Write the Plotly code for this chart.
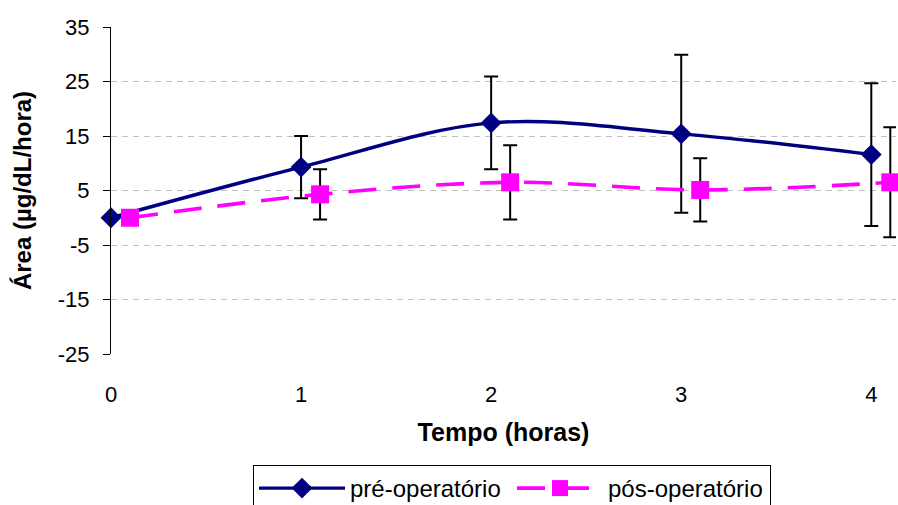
import plotly.graph_objects as go

# Time points (hours) and area values (mean ± error) for each group
tempo = [0, 1, 2, 3, 4]
pre_operatorio = [0.0, 9.3, 17.4, 15.4, 11.6]
pre_erro = [0.0, 5.7, 8.5, 14.5, 13.1]
pos_operatorio = [0.0, 4.3, 6.5, 5.1, 6.5]
pos_erro = [0.0, 4.6, 6.8, 5.8, 10.1]

tick_x = [0, 1, 2, 3, 4]
tick_y = [35, 25, 15, 5, -5, -15, -25]
tick_y_text = ["35", "25", "15", "5", "-5", "-15", "-25"]
y_range = [-25, 35]
x_range = [0, 4.13]

# the post-operative series is nudged right so the error bars do not overlap
offset = 0.1
tempo_pos = [t + offset for t in tempo]

FONT = "Arial, 'Liberation Sans', sans-serif"

fig = go.Figure()

fig.add_trace(go.Scatter(
    x=tempo, y=pre_operatorio, name="pré-operatório",
    mode="lines+markers",
    line=dict(color="#000080", width=3.4, shape="spline", smoothing=1),
    marker=dict(symbol="diamond", size=16, color="#000080"),
    error_y=dict(type="data", array=pre_erro, visible=True,
                 color="black", thickness=2, width=7),
    cliponaxis=False,
))

fig.add_trace(go.Scatter(
    x=tempo_pos, y=pos_operatorio, name="pós-operatório",
    mode="lines+markers",
    line=dict(color="#FF00FF", width=3.6, dash="28px,16px", shape="spline", smoothing=1),
    marker=dict(symbol="square", size=18, color="#FF00FF"),
    error_y=dict(type="data", array=pos_erro, visible=True,
                 color="black", thickness=2, width=7),
    cliponaxis=False,
))

fig.update_layout(
    width=898, height=505,
    margin=dict(l=111, r=2, t=27, b=151, autoexpand=False),
    paper_bgcolor="white", plot_bgcolor="white",
    font=dict(family=FONT, color="black"),
    xaxis=dict(
        range=x_range, tickvals=tick_x, ticktext=[str(v) for v in tick_x],
        showline=False, showgrid=False, zeroline=False, ticks="",
        ticklabelstandoff=25,
        tickfont=dict(size=22),
        title=dict(text="<b>Tempo (horas)</b>", font=dict(size=25), standoff=17),
    ),
    # axis line crossing the value axis at zero
    xaxis2=dict(
        overlaying="x", anchor="free", position=(0 - y_range[0]) / (y_range[1] - y_range[0]),
        range=x_range, tickvals=tick_x, showticklabels=False,
        showline=True, linecolor="black", linewidth=1,
        ticks="outside", ticklen=7, tickcolor="#808080", tickwidth=1,
        showgrid=False, zeroline=False,
    ),
    yaxis=dict(
        range=y_range, tickvals=tick_y, ticktext=tick_y_text,
        showline=True, linecolor="black", linewidth=1,
        ticks="outside", ticklen=7, tickcolor="black",
        showgrid=True, gridcolor="#c0c0c0", gridwidth=1, griddash="6px,5px",
        zeroline=False,
        tickfont=dict(size=22),
        ticklabelstandoff=9,
        title=dict(text="<b>Área (µg/dL/hora)</b>", font=dict(size=24), standoff=19),
    ),
    legend=dict(
        orientation="h", x=(253 - 111) / 785, xanchor="left",
        y=(354 - 465) / 327, yanchor="top",
        bordercolor="black", borderwidth=1, bgcolor="white",
        font=dict(size=24), itemwidth=86, entrywidth=157,
    ),
    showlegend=True,
)

fig.write_html("out.html")
